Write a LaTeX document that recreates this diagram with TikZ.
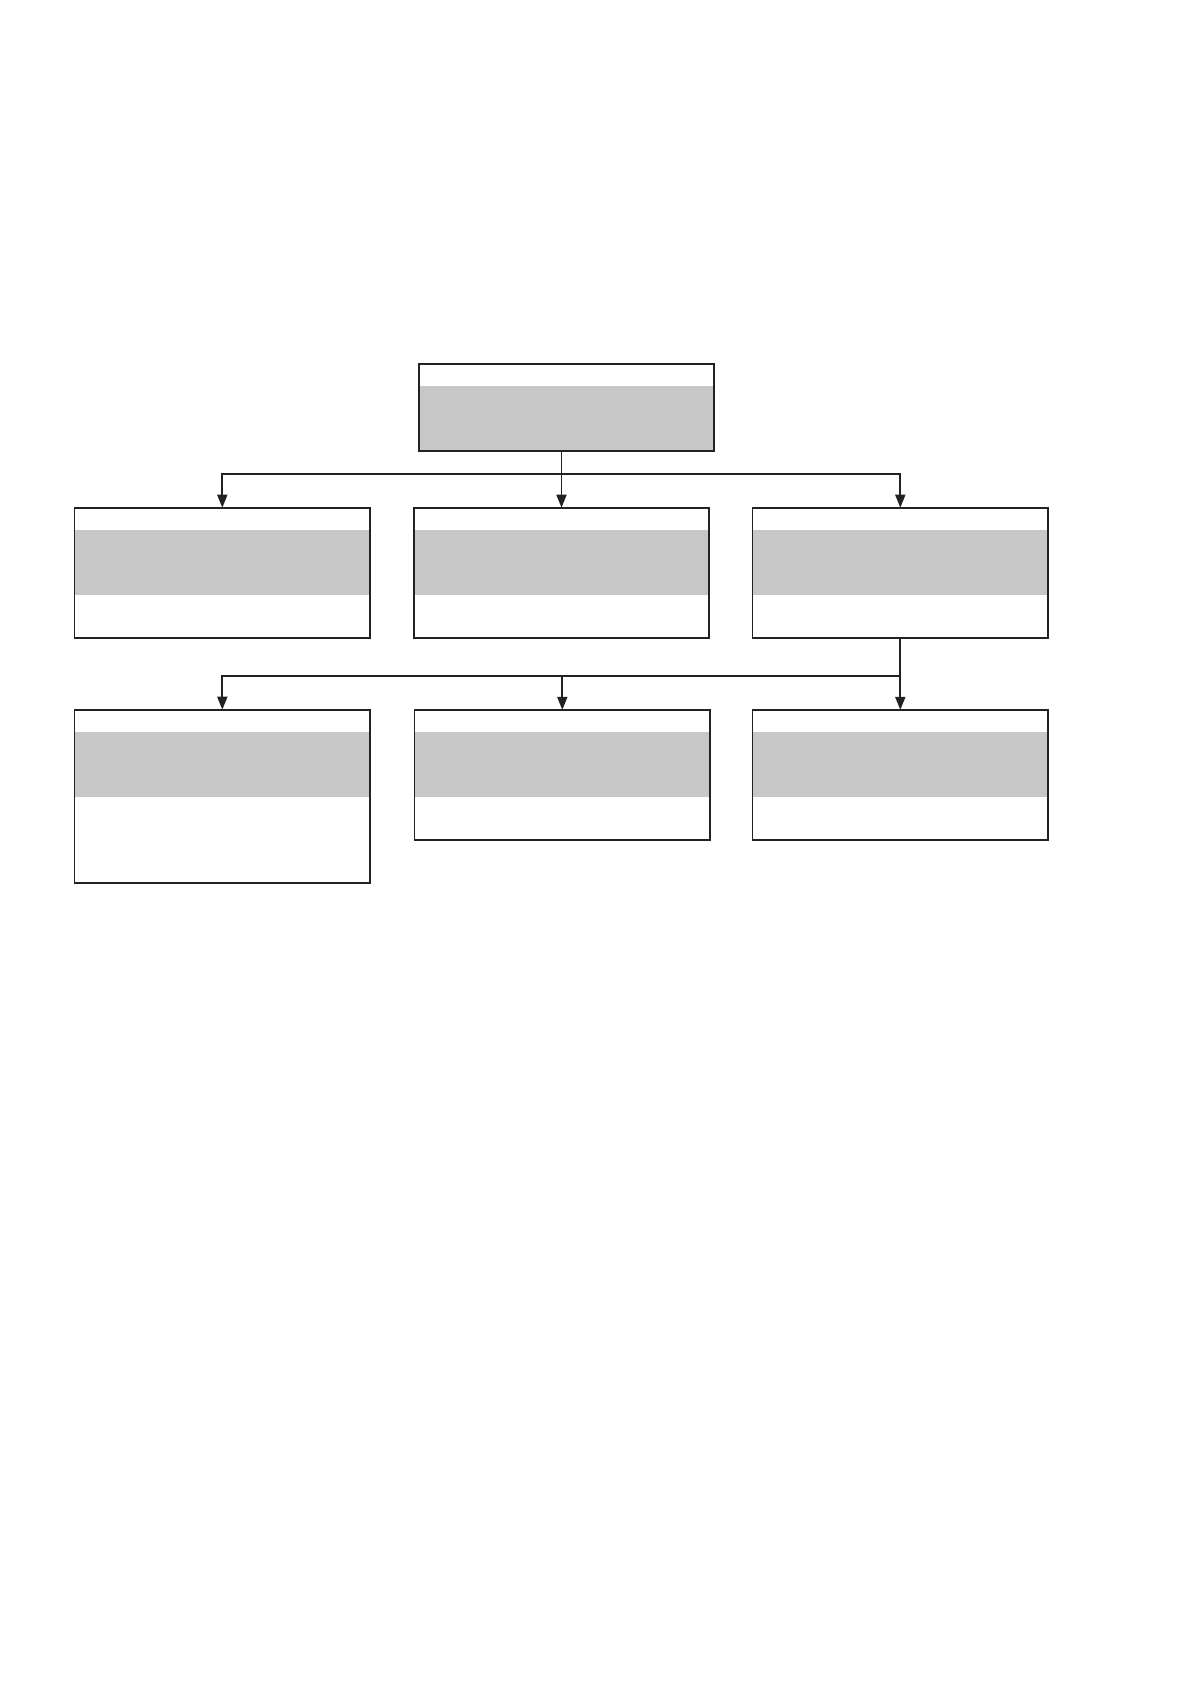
\documentclass[tikz,border=0pt]{standalone}
\usepackage{xcolor}
\usetikzlibrary{arrows.meta, positioning}
\definecolor{boxline}{HTML}{222222}
\definecolor{bandgrey}{HTML}{C7C7C7}

\begin{document}
\begin{tikzpicture}[x=0.5pt, y=-0.5pt,
        box/.style={draw=boxline, line width=0.9pt, inner sep=0pt, outer sep=0pt,
            minimum width=147.75pt, minimum height=65pt,
            path picture={\fill[bandgrey]
                ([yshift=-11pt]path picture bounding box.north west)
                rectangle ([yshift=-43.5pt]path picture bounding box.north east);}},
        flow/.style={draw=boxline, line width=0.9pt, -{Triangle[length=6.5pt, width=5pt]}}]
            \useasboundingbox (0,0) rectangle (1191,1684);
            % top and second row
            \node[box, minimum height=43.5pt] (top) at (566.5,407.3) {};
            \node[box] (b1) at (222.3,572.7) {};
            \node[box] (b2) at (561.5,572.7) {};
            \node[box] (b3) at (900.3,572.7) {};
            % third row
            \node[box, minimum height=86.5pt] (c1) at (222.3,796.2) {};
            \node[box] (c2) at (562.3,774.9) {};
            \node[box] (c3) at (900.3,774.9) {};
            \coordinate (bus1) at (0,473.7);
            \coordinate (bus2) at (0,675.7);
            \draw[flow] (b2.north |- top.south) -- (b2.north);
            \draw[flow] (b2.north |- bus1) -| (b1.north);
            \draw[flow] (b2.north |- bus1) -| (b3.north);
            \draw[flow] (b3.south) -- (c3.north);
            \draw[flow] (b3.south |- bus2) -| (c1.north);
            \draw[flow] (c2.north |- bus2) -- (c2.north);
        \end{tikzpicture}
\end{document}
